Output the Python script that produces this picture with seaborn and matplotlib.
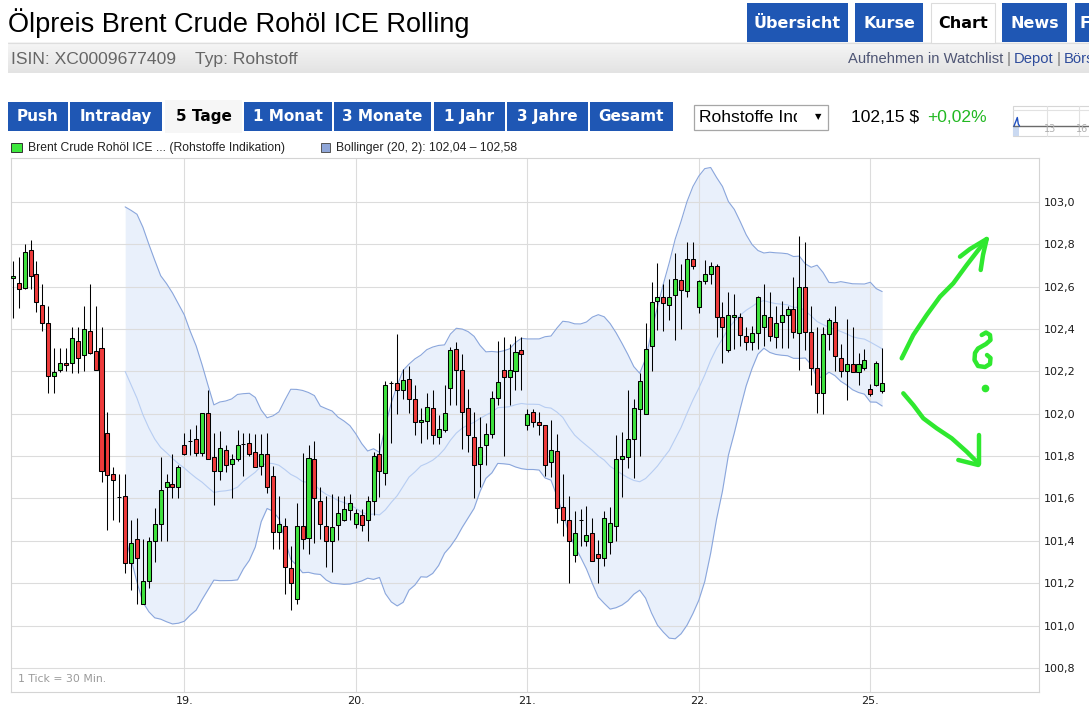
import numpy as np
import pandas as pd
import matplotlib
matplotlib.use("Agg")
import matplotlib.pyplot as plt
import seaborn as sns
from matplotlib.patches import Rectangle

# ---------------- data (30-minute candles, Brent Crude, 5 days) ----------------
opens = [102.64, 102.615, 102.595, 102.77, 102.66, 102.515, 102.43, 102.18, 102.205, 102.24,
         102.24, 102.345, 102.275, 102.39, 102.295, 102.31, 101.91, 101.715, 101.605, 101.61,
         101.295, 101.41, 101.10, 101.21, 101.40, 101.48, 101.655, 101.67, 101.655, 101.85,
         101.87, 101.88, 101.815, 102.005, 101.795, 101.73, 101.83, 101.765, 101.785, 101.855,
         101.86, 101.82, 101.755, 101.81, 101.705, 101.44, 101.47, 101.27, 101.125, 101.47,
         101.415, 101.785, 101.59, 101.47, 101.40, 101.475, 101.50, 101.545, 101.48, 101.52,
         101.50, 101.59, 101.81, 101.72, 102.145, 102.145, 102.11, 102.165, 102.07, 101.96,
         101.965, 102.025, 101.89, 101.925, 102.12, 102.305, 102.205, 102.025, 101.89, 101.765,
         101.85, 101.905, 102.075, 102.205, 102.175, 102.20, 102.30, 101.945, 102.01, 101.96,
         101.945, 101.77, 101.825, 101.56, 101.50, 101.335, 101.50, 101.40, 101.435, 101.34,
         101.32, 101.395, 101.47, 101.785, 101.795, 101.88, 102.02, 102.00, 102.32, 102.53,
         102.55, 102.515, 102.56, 102.63, 102.58, 102.73, 102.505, 102.625, 102.66, 102.695,
         102.455, 102.30, 102.455, 102.455, 102.365, 102.34, 102.38, 102.41, 102.455, 102.36,
         102.435, 102.465, 102.495, 102.38, 102.60, 102.385, 102.215, 102.10, 102.375, 102.435,
         102.265, 102.20, 102.235, 102.195, 102.215, 102.115, 102.135, 102.105]
highs = [102.72, 102.74, 102.80, 102.82, 102.72, 102.61, 102.51, 102.31, 102.31, 102.31,
         102.41, 102.41, 102.51, 102.61, 102.51, 102.41, 102.01, 101.75, 101.715, 101.715,
         101.50, 101.51, 101.41, 101.42, 101.555, 101.795, 101.715, 101.81, 101.76, 101.91,
         101.93, 101.945, 102.005, 102.11, 101.91, 101.92, 101.85, 101.81, 101.925, 101.91,
         101.91, 101.905, 101.905, 101.91, 101.755, 101.61, 101.51, 101.375, 101.58, 101.815,
         101.85, 101.87, 101.655, 101.61, 101.62, 101.61, 101.61, 101.62, 101.55, 101.55,
         101.61, 101.82, 101.91, 102.155, 102.155, 102.375, 102.21, 102.225, 102.135, 102.025,
         102.10, 102.11, 101.995, 102.135, 102.315, 102.34, 102.28, 102.115, 102.01, 101.985,
         101.955, 102.105, 102.345, 102.36, 102.33, 102.365, 102.36, 102.02, 102.02, 102.01,
         101.945, 101.97, 101.905, 101.715, 101.61, 101.54, 101.55, 101.565, 101.51, 101.405,
         101.54, 101.56, 101.90, 101.915, 102.11, 102.07, 102.19, 102.43, 102.62, 102.71,
         102.61, 102.635, 102.76, 102.705, 102.81, 102.81, 102.63, 102.725, 102.715, 102.705,
         102.525, 102.575, 102.565, 102.475, 102.41, 102.415, 102.555, 102.61, 102.575, 102.51,
         102.53, 102.51, 102.645, 102.84, 102.81, 102.51, 102.41, 102.41, 102.45, 102.51,
         102.33, 102.445, 102.41, 102.285, 102.305, 102.14, 102.25, 102.31]
lows = [102.45, 102.50, 102.59, 102.59, 102.48, 102.39, 102.10, 102.10, 102.195, 102.20,
        102.19, 102.19, 102.20, 102.28, 102.205, 101.68, 101.45, 101.50, 101.49, 101.25,
        101.17, 101.10, 101.10, 101.18, 101.30, 101.40, 101.40, 101.60, 101.60, 101.805,
        101.805, 101.80, 101.80, 101.785, 101.57, 101.685, 101.725, 101.60, 101.775, 101.705,
        101.80, 101.75, 101.71, 101.625, 101.36, 101.36, 101.15, 101.075, 101.10, 101.36,
        101.34, 101.39, 101.41, 101.275, 101.255, 101.405, 101.495, 101.50, 101.46, 101.445,
        101.40, 101.52, 101.605, 101.665, 101.86, 102.00, 102.07, 102.005, 101.90, 101.86,
        101.88, 101.855, 101.855, 101.915, 102.04, 102.04, 101.835, 101.82, 101.60, 101.655,
        101.76, 101.885, 102.04, 101.80, 102.04, 102.11, 102.11, 101.925, 101.935, 101.90,
        101.705, 101.70, 101.485, 101.425, 101.20, 101.30, 101.375, 101.375, 101.305, 101.20,
        101.28, 101.34, 101.40, 101.605, 101.745, 101.695, 101.80, 102.00, 102.20, 102.395,
        102.39, 102.44, 102.35, 102.40, 102.55, 102.685, 102.475, 102.61, 102.61, 102.36,
        102.24, 102.29, 102.305, 102.32, 102.30, 102.30, 102.305, 102.32, 102.345, 102.31,
        102.31, 102.31, 102.355, 102.205, 102.30, 102.135, 102.005, 102.00, 102.30, 102.20,
        102.175, 102.065, 102.195, 102.135, 102.205, 102.085, 102.13, 102.10]
closes = [102.65, 102.59, 102.765, 102.65, 102.525, 102.43, 102.18, 102.195, 102.24, 102.23,
          102.355, 102.265, 102.40, 102.285, 102.205, 101.73, 101.71, 101.685, 101.605, 101.295,
          101.39, 101.32, 101.21, 101.40, 101.48, 101.64, 101.68, 101.655, 101.75, 101.81,
          101.87, 101.815, 102.005, 101.785, 101.73, 101.84, 101.76, 101.785, 101.85, 101.855,
          101.81, 101.75, 101.81, 101.655, 101.44, 101.48, 101.275, 101.20, 101.47, 101.41,
          101.79, 101.60, 101.48, 101.40, 101.465, 101.53, 101.55, 101.58, 101.53, 101.475,
          101.59, 101.80, 101.73, 102.135, 102.145, 102.11, 102.16, 102.07, 101.96, 101.97,
          102.03, 101.90, 101.93, 102.005, 102.30, 102.205, 102.01, 101.90, 101.76, 101.845,
          101.905, 102.075, 102.15, 102.175, 102.205, 102.29, 102.28, 102.00, 101.96, 101.945,
          101.76, 101.83, 101.555, 101.50, 101.40, 101.435, 101.50, 101.43, 101.305, 101.32,
          101.51, 101.485, 101.785, 101.80, 101.88, 102.025, 102.155, 102.305, 102.525, 102.55,
          102.52, 102.55, 102.635, 102.585, 102.73, 102.695, 102.625, 102.66, 102.695, 102.455,
          102.41, 102.465, 102.465, 102.37, 102.34, 102.38, 102.55, 102.465, 102.365, 102.43,
          102.465, 102.495, 102.385, 102.60, 102.385, 102.215, 102.10, 102.375, 102.44, 102.27,
          102.20, 102.235, 102.195, 102.235, 102.255, 102.095, 102.24, 102.145]

day_labels = ["19.", "20.", "21.", "22.", "25."]
day_start_candle = [29, 58, 87, 116, 145]
price_ticks = [100.8, 101.0, 101.2, 101.4, 101.6, 101.8, 102.0, 102.2, 102.4, 102.6, 102.8, 103.0]
boll_window, boll_k = 20, 2

# ---------------- derived table ----------------
df = pd.DataFrame({"open": opens, "high": highs, "low": lows, "close": closes})
df["idx"] = np.arange(len(df))
roll = df["close"].rolling(boll_window)
df["mid"] = roll.mean()
df["sd"] = roll.std(ddof=0)
df["upper"] = df["mid"] + boll_k * df["sd"]
df["lower"] = df["mid"] - boll_k * df["sd"]

# ---------------- style ----------------
sns.set_style("white")
plt.rcParams["font.family"] = ["DejaVu Sans"]

W, H = 1089, 711
fig = plt.figure(figsize=(W / 100, H / 100), dpi=100, facecolor="white")

# chart axes (pixel frame 10.7..1039.3 x 158.3..692)
L, R, T, B = 10.7, 1039.3, 158.3, 692.0
ax = fig.add_axes([L / W, 1 - B / H, (R - L) / W, (B - T) / H])
ax.set_facecolor("white")

GRID = "#dcdcdc"
for yv in price_ticks:
    ax.axhline(yv, color=GRID, lw=0.8, zorder=1)
for xv in day_start_candle:
    ax.axvline(xv, color=GRID, lw=0.8, zorder=1)

band = df.dropna(subset=["upper"])
ax.fill_between(band["idx"], band["lower"], band["upper"], color="#e9f0fb", lw=0, zorder=0.5)
sns.lineplot(data=band, x="idx", y="upper", ax=ax, color="#8aa6dc", lw=0.8, zorder=1.5)
sns.lineplot(data=band, x="idx", y="lower", ax=ax, color="#8aa6dc", lw=0.8, zorder=1.5)
sns.lineplot(data=band, x="idx", y="mid", ax=ax, color="#b7cdf2", lw=0.8, zorder=1.5)

RED, GREEN = "#ee3b3b", "#3ee23e"
up = df["close"] >= df["open"]
ax.vlines(df["idx"], df["low"], df["high"], color="black", lw=0.75, zorder=2)
ax.bar(df["idx"], (df["close"] - df["open"]).abs(), bottom=np.minimum(df["open"], df["close"]),
       width=0.68, color=np.where(up, GREEN, RED), edgecolor="black", linewidth=0.75, zorder=3)

ax.set_xlim(-0.355, 173.57)
ax.set_ylim(100.687, 103.205)
ax.set_xlabel("")
ax.set_ylabel("")
ax.set_xticks(day_start_candle, day_labels)
ax.set_yticks(price_ticks, [f"{v:.1f}".replace(".", ",") for v in price_ticks])
ax.yaxis.tick_right()
ax.tick_params(axis="both", length=0, labelsize=8, labelcolor="#1a1a1a")
ax.tick_params(axis="y", pad=3.6)
ax.tick_params(axis="x", pad=3.2)
for s in ax.spines.values():
    s.set_color("#d4d4d4")
    s.set_linewidth(0.8)
ax.text(0.0075, 0.025, "1 Tick = 30 Min.", transform=ax.transAxes, fontsize=7.8,
        color="#9a9a9a", ha="left", va="center")

# ---------------- page chrome overlay (pixel coordinates) ----------------
ov = fig.add_axes([0, 0, 1, 1], zorder=10)
ov.axis("off")
BLUE = "#1f57b4"
SANS = "Liberation Sans"

grad = np.linspace(0, 1, 40)[:, None, None]
c0 = np.array([0xf6, 0xf6, 0xf6]) / 255
c1 = np.array([0xe3, 0xe3, 0xe3]) / 255
ov.imshow(c0 + (c1 - c0) * grad, extent=(7.6, W, 73.3, 42.7), aspect="auto", origin="upper", zorder=0)
ov.plot([7.6, W], [42.7, 42.7], color="#dedede", lw=0.8, zorder=1)

ov.text(7.6, 31.7, "Ölpreis Brent Crude Rohöl ICE Rolling", fontsize=19.5, family=SANS,
        color="black", ha="left", va="baseline")
ov.text(11.1, 64, "ISIN: XC0009677409", fontsize=12.6, family=SANS, color="#666666", va="baseline")
ov.text(194.6, 64, "Typ: Rohstoff", fontsize=12.6, family=SANS, color="#666666", va="baseline")
ov.text(848, 63.3, "Aufnehmen in Watchlist", fontsize=10.6, family=SANS, color="#4e5574", va="baseline")
ov.text(1006.5, 63.3, "|", fontsize=10.6, family=SANS, color="#777777", va="baseline")
ov.text(1013.4, 63.3, "Depot", fontsize=10.6, family=SANS, color="#2d4b9b", va="baseline")
ov.text(1056.8, 63.3, "|", fontsize=10.6, family=SANS, color="#777777", va="baseline")
ov.text(1063.7, 63.3, "Börs", fontsize=10.6, family=SANS, color="#2d4b9b", va="baseline")


def button(x0, x1, y0, y1, label, active=False, size=11.0, ha="center"):
    if active:
        ov.add_patch(Rectangle((x0, y0), x1 - x0, y1 - y0, facecolor="white",
                               edgecolor="#dcdcdc", lw=0.8, zorder=2))
    else:
        ov.add_patch(Rectangle((x0, y0), x1 - x0, y1 - y0, facecolor=BLUE, lw=0, zorder=2))
    tx = (x0 + x1) / 2 if ha == "center" else x0 + 5
    ov.text(tx, (y0 + y1) / 2 + 0.5, label, ha=ha, va="center", fontsize=size, fontweight="bold",
            color="black" if active else "white", zorder=3)


button(747, 848, 3.3, 42, "Übersicht", size=11.5)
button(855, 923.2, 3.3, 42, "Kurse", size=11.5)
button(931.2, 995, 3.3, 43, "Chart", active=True, size=11.5)
button(1002, 1067.2, 3.3, 42, "News", size=11.5)
button(1074.8, 1100, 3.3, 42, "F", size=11.5, ha="left")

row = [(7.6, 67.8, "Push"), (69.9, 161.6, "Intraday"), (165.1, 241.9, "5 Tage"),
       (244, 332, "1 Monat"), (334, 431.3, "3 Monate"), (433.8, 504.7, "1 Jahr"),
       (507.1, 587.7, "3 Jahre"), (590.1, 672.7, "Gesamt")]
for x0, x1, lab in row:
    if lab == "5 Tage":
        ov.add_patch(Rectangle((x0, 99.5), x1 - x0, 33.5, facecolor="#f6f6f6", lw=0, zorder=2))
        ov.text((x0 + x1) / 2, 117, lab, ha="center", va="center", fontsize=11, fontweight="bold",
                color="black", zorder=3)
    else:
        button(x0, x1, 101.7, 131, lab, size=11)

# dropdown
ov.add_patch(Rectangle((693.5, 104.7), 134.3, 25, facecolor="white", edgecolor="#a6a6a6", lw=0.9, zorder=2))
clip = Rectangle((694, 104), 103, 27, transform=ov.transData, visible=False)
ov.add_patch(clip)
t = ov.text(699.4, 117.5, "Rohstoffe Ind", fontsize=12.6, family=SANS, color="black",
            va="center", ha="left", zorder=3, clip_on=True)
t.set_clip_path(clip)
ov.text(818, 117, "▼", fontsize=6, color="black", ha="center", va="center", zorder=3)

ov.text(851.4, 117.5, "102,15 $", fontsize=12.6, family=SANS, color="black", va="center")
ov.text(926.7, 117.5, "+0,02%", fontsize=12.6, family=SANS, color="#22b822", va="center")

# mini thumbnail chart
ov.add_patch(Rectangle((1013.4, 106), 90, 30, facecolor="white", edgecolor="#d6d6d6", lw=0.8, zorder=2))
ov.plot([1013.4, W], [110, 110], color="#e2e2e2", lw=0.8, zorder=3)
for gx in (1046.7, 1079):
    ov.plot([gx, gx], [106, 136], color="#e2e2e2", lw=0.8, zorder=3)
ov.add_patch(Rectangle((1013.4, 126), 5.5, 10, facecolor="#cad9f1", lw=0, zorder=3))
ov.plot([1013.4, W], [126, 126], color="#6a6a6a", lw=1.0, zorder=4)
ov.plot([1014, 1016, 1017.3, 1018.3, 1019.5], [126, 121, 117.5, 124, 126], color="#1e4fc0", lw=1.0, zorder=5)
ov.text(1050, 129.5, "13", fontsize=7, color="#b0b0b0", ha="center", va="center", zorder=5)
ov.text(1082, 129.5, "16", fontsize=7, color="#b0b0b0", ha="center", va="center", zorder=5)

# legend row
ov.add_patch(Rectangle((11.1, 142.7), 10.4, 9, facecolor="#3ee83e", edgecolor="#333333", lw=0.7, zorder=2))
ov.text(27.8, 147.5, "Brent Crude Rohöl ICE ... (Rohstoffe Indikation)", fontsize=8.7, family=SANS,
        color="#222222", va="center")
ov.add_patch(Rectangle((320.5, 142.7), 9.7, 9, facecolor="#8fa6d8", edgecolor="#555555", lw=0.7, zorder=2))
ov.text(336.5, 147.5, "Bollinger (20, 2): 102,04 – 102,58", fontsize=8.7, family=SANS,
        color="#222222", va="center")

# hand-drawn green annotation
INK = "#2fe82f"


def stroke(pts):
    xs, ys = zip(*pts)
    ov.plot(xs, ys, color=INK, lw=3.2, solid_capstyle="round", solid_joinstyle="round", zorder=8)


stroke([(901.7, 358.3), (913.3, 335), (926.7, 315), (940, 296.7), (953.3, 283.3),
        (966.7, 265), (978.3, 250), (986.7, 239)])
stroke([(960, 256.7), (970, 249), (986.7, 239), (983, 255), (980.7, 270)])
stroke([(903.3, 393.3), (913.3, 405), (923.3, 418.3), (936.7, 428.3), (951.7, 438.3),
        (966.7, 451.7), (978.3, 463.3)])
stroke([(979.3, 435), (979.3, 464.3)])
stroke([(958.3, 460), (978.3, 465)])
stroke([(981.7, 335), (986, 332.5), (990, 335), (990.5, 340), (986, 344), (978, 348.5),
        (975, 353), (974.5, 360), (978, 366), (985, 367), (990, 364), (990.5, 358), (987, 355)])
ov.plot([985], [387.7], marker="o", ms=4.5, color=INK, zorder=8)

ov.set_xlim(0, W)
ov.set_ylim(H, 0)

fig.savefig("out.png", dpi=100, facecolor="white")
